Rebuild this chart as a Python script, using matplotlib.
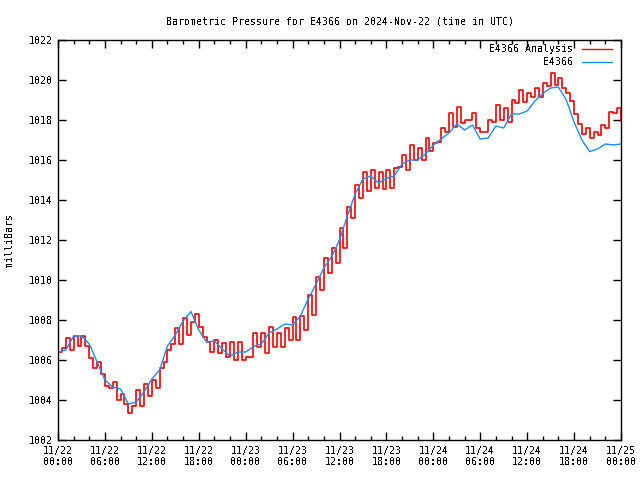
import numpy as np
import pandas as pd
import matplotlib
matplotlib.use("Agg")
import matplotlib.pyplot as plt
import matplotlib.dates as mdates

plt.rcParams['font.family'] = ['DejaVu Sans Mono']
plt.rcParams['text.antialiased'] = False

# E4366 station pressure, hourly from 2024-11-22 00:00 UTC
e4366 = [1006.4, 1006.5, 1007.2, 1007.2, 1006.8, 1005.9, 1005.0, 1004.65, 1004.55, 1003.8,
         1003.9, 1004.4, 1005.05, 1005.5, 1006.7, 1007.25, 1007.95, 1008.42, 1007.5, 1006.9,
         1006.95, 1006.55, 1006.2, 1006.4, 1006.4, 1006.67, 1006.8, 1007.35, 1007.55, 1007.8,
         1007.75, 1008.2, 1009.05, 1009.8, 1010.6, 1011.17, 1012.0, 1013.2, 1014.3, 1015.05,
         1015.2, 1014.85, 1015.08, 1015.2, 1015.8, 1016.0, 1016.0, 1016.3, 1016.75, 1017.05,
         1017.35, 1017.8, 1017.5, 1017.75, 1017.05, 1017.1, 1017.7, 1017.6, 1018.3, 1018.3,
         1018.45, 1018.95, 1019.33, 1019.6, 1019.65, 1019.0, 1017.9, 1017.0, 1016.42, 1016.55,
         1016.8, 1016.75, 1016.8]

# E4366 analysis, every 30 minutes
analysis = [1006.4, 1006.6, 1007.1, 1006.5, 1007.2, 1006.7, 1007.2, 1006.7, 1006.1, 1005.6,
            1005.9, 1005.3, 1004.7, 1004.6, 1004.9, 1004.0, 1004.3, 1003.8, 1003.35, 1003.7,
            1004.5, 1003.7, 1004.8, 1004.2, 1005.0, 1004.6, 1005.6, 1005.9, 1006.5, 1006.8,
            1007.6, 1006.8, 1008.1, 1007.25, 1007.9, 1008.3, 1007.65, 1007.15, 1006.9, 1006.4,
            1007.0, 1006.35, 1006.85, 1006.15, 1006.9, 1006.0, 1006.9, 1006.0, 1006.17, 1006.17,
            1007.33, 1006.67, 1007.33, 1006.33, 1007.67, 1006.67, 1007.33, 1006.67, 1007.58, 1007.0,
            1008.17, 1007.0, 1008.2, 1007.5, 1009.25, 1008.25, 1010.17, 1009.5, 1011.08, 1010.33,
            1011.58, 1010.85, 1012.58, 1011.58, 1013.67, 1013.08, 1014.75, 1014.1, 1015.42, 1014.45,
            1015.5, 1014.6, 1015.4, 1014.55, 1015.5, 1014.6, 1015.6, 1015.67, 1016.25, 1015.5,
            1016.75, 1016.0, 1016.58, 1016.0, 1017.08, 1016.45, 1016.83, 1016.92, 1017.58, 1017.42,
            1018.33, 1017.67, 1018.67, 1017.83, 1018.0, 1018.0, 1018.33, 1017.6, 1017.42, 1017.42,
            1018.0, 1017.9, 1018.75, 1018.0, 1018.58, 1017.92, 1019.0, 1018.83, 1019.5, 1018.92,
            1019.33, 1019.17, 1019.58, 1019.17, 1019.83, 1019.7, 1020.37, 1019.75, 1020.08, 1019.6,
            1019.35, 1018.95, 1018.3, 1017.8, 1017.3, 1017.6, 1017.1, 1017.4, 1017.25, 1017.75,
            1017.6, 1018.42, 1018.33, 1018.58, 1017.95]

series_names = ["E4366 Analysis", "E4366"]
series_colors = ["#ff0000", "#1a8cff"]

t_station = pd.date_range("2024-11-22 00:00", periods=len(e4366), freq="h")
t_analysis = pd.date_range("2024-11-22 00:00", periods=len(analysis), freq="30min")

fs = 7.2
fig = plt.figure(figsize=(6.4, 4.8), dpi=100)
ax = fig.add_axes([58 / 640, 40 / 480, 563 / 640, 400 / 480])

ax.plot(t_analysis, analysis, color=series_colors[0], lw=1.2, drawstyle="steps-post")
ax.plot(t_station, e4366, color=series_colors[1], lw=1.0)

ax.set_xlim(pd.Timestamp("2024-11-22 00:00"), pd.Timestamp("2024-11-25 00:00"))
ax.set_ylim(1002, 1022)
ax.set_yticks(np.arange(1002, 1023, 2))

ax.xaxis.set_major_locator(mdates.HourLocator(byhour=[0, 6, 12, 18]))
ax.xaxis.set_minor_locator(mdates.HourLocator(interval=2))
ax.xaxis.set_major_formatter(mdates.DateFormatter("%m/%d\n%H:%M"))

ax.tick_params(which="both", direction="in", top=True, right=True, width=1, labelsize=fs)
ax.tick_params(which="major", length=6, pad=4)
ax.tick_params(which="minor", length=3)
for s in ax.spines.values():
    s.set_linewidth(1)

ax.set_title("Barometric Pressure for E4366 on 2024-Nov-22 (time in UTC)", fontsize=fs, pad=11)
ax.set_ylabel("milliBars", fontsize=fs)
ax.yaxis.set_label_coords(-0.078, 0.5)

# gnuplot-style key: labels right-aligned, sample line to the right
for i, (name, col) in enumerate(zip(series_names, series_colors)):
    y = 0.9775 - i * 0.0325
    ax.text(0.914, y, name, transform=ax.transAxes, ha="right", va="center", fontsize=fs)
    ax.plot([0.931, 0.984], [y, y], transform=ax.transAxes, color=col, lw=1.0)

fig.savefig("out.png", dpi=100)
